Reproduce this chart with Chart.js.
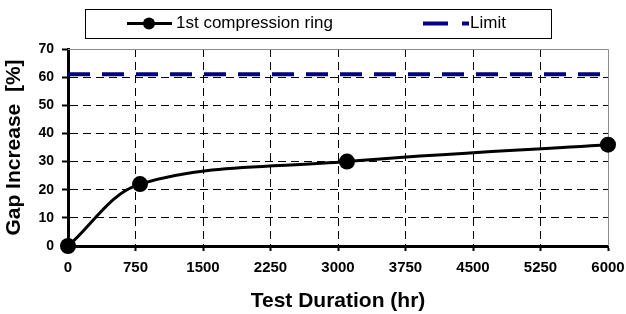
<!DOCTYPE html>
<html>
<head>
<meta charset="utf-8">
<script src="https://cdn.jsdelivr.net/npm/chart.js@4"></script>
<style>
  html, body { margin: 0; padding: 0; background: #fff; }
  #wrap { width: 626px; height: 314px; position: relative; }
</style>
</head>
<body>
<div id="wrap"><canvas id="gapChart" width="626" height="314"></canvas></div>
<script>
// values
const durations = [0, 800, 3100, 6000];
const gapIncrease = [0, 22, 30, 36];
const limitDurations = [0, 6000];
const limitValues = [61, 61];
const xTicks = [0, 750, 1500, 2250, 3000, 3750, 4500, 5250, 6000];
const yTicks = [0, 10, 20, 30, 40, 50, 60, 70];

const seriesNames = ['1st compression ring', 'Limit'];

const toPoints = (xs, ys) => xs.map((x, i) => ({ x: x, y: ys[i] }));

// gray frame on top / right of the plot, like the original
const frame = {
    id: 'frame',
    beforeDatasetsDraw(chart) {
        const a = chart.chartArea;
        const c = chart.ctx;
        c.save();
        c.strokeStyle = '#8c8c8c';
        c.lineWidth = 1;
        c.beginPath();
        c.moveTo(a.left, a.top + 0.5);
        c.lineTo(a.right + 0.5, a.top + 0.5);
        c.lineTo(a.right + 0.5, a.bottom);
        c.stroke();
        c.restore();
    }
};

// boxed legend above the plot
const boxLegend = {
    id: 'boxLegend',
    afterDraw(chart) {
        const c = chart.ctx;
        const ds = chart.data.datasets;
        c.save();
        c.strokeStyle = '#000';
        c.lineWidth = 1;
        c.strokeRect(85.5, 9.5, 466, 29);

        const y = 23.5;
        // series 1 sample
        c.strokeStyle = ds[0].borderColor;
        c.lineWidth = 3;
        c.beginPath();
        c.moveTo(127, y);
        c.lineTo(172, y);
        c.stroke();
        c.fillStyle = ds[0].pointBackgroundColor;
        c.beginPath();
        c.arc(149, y, 6, 0, Math.PI * 2);
        c.fill();

        // limit sample
        c.strokeStyle = ds[1].borderColor;
        c.lineWidth = ds[1].borderWidth;
        c.setLineDash([25, 14]);
        c.beginPath();
        c.moveTo(423, y);
        c.lineTo(469, y);
        c.stroke();
        c.setLineDash([]);

        c.fillStyle = '#000';
        c.font = '17px "Liberation Sans", Arial, sans-serif';
        c.textBaseline = 'middle';
        c.textAlign = 'left';
        c.fillText(ds[0].label, 176, y);
        c.fillText(ds[1].label, 470, y);
        c.restore();
    }
};

const ctx = document.getElementById('gapChart');
new Chart(ctx, {
    type: 'line',
    data: {
        datasets: [
            {
                label: seriesNames[0],
                data: toPoints(durations, gapIncrease),
                borderColor: '#000',
                borderWidth: 3,
                tension: 0.35,
                pointRadius: 8,
                pointBackgroundColor: '#000',
                pointBorderColor: '#000',
                pointBorderWidth: 0,
                clip: false
            },
            {
                label: seriesNames[1],
                data: toPoints(limitDurations, limitValues),
                borderColor: '#000080',
                borderWidth: 4,
                borderDash: [22, 12],
                pointRadius: 0,
                tension: 0
            }
        ]
    },
    options: {
        responsive: false,
        animation: false,
        events: [],
        layout: { padding: { top: 49, right: 18, left: 0, bottom: 0 } },
        plugins: {
            legend: { display: false },
            tooltip: { enabled: false }
        },
        scales: {
            x: {
                type: 'linear',
                min: 0,
                max: 6000,
                afterBuildTicks(scale) {
                    scale.ticks = xTicks.map(v => ({ value: v }));
                },
                afterFit(scale) {
                    scale.height = 68;
                    scale.paddingLeft = 0;
                    scale.paddingRight = 0;
                },
                ticks: {
                    autoSkip: false,
                    maxRotation: 0,
                    color: '#000',
                    padding: 8,
                    font: { family: '"Liberation Sans", Arial, sans-serif', size: 15, weight: 'bold' },
                    callback: v => String(v)
                },
                grid: {
                    color: c => (c.tick && (c.tick.value === 0 || c.tick.value === 6000)) ? 'rgba(0,0,0,0)' : '#000',
                    lineWidth: 1,
                    tickLength: 5,
                    tickColor: '#000',
                    tickWidth: 2,
                    tickBorderDash: []
                },
                border: { display: true, color: '#000', width: 3, dash: [8, 5] },
                title: {
                    display: true,
                    text: 'Test Duration (hr)',
                    color: '#000',
                    padding: { top: 0, bottom: 0 },
                    font: { family: '"Liberation Sans", Arial, sans-serif', size: 21, weight: 'bold' }
                }
            },
            y: {
                min: 0,
                max: 70,
                afterBuildTicks(scale) {
                    scale.ticks = yTicks.map(v => ({ value: v }));
                },
                afterFit(scale) { scale.width = 68; },
                ticks: {
                    color: '#000',
                    padding: 8,
                    font: { family: '"Liberation Sans", Arial, sans-serif', size: 14, weight: 'bold' }
                },
                grid: {
                    color: c => (c.tick && (c.tick.value === 0 || c.tick.value === 70)) ? 'rgba(0,0,0,0)' : '#000',
                    lineWidth: 1,
                    tickLength: 6,
                    tickColor: '#000',
                    tickWidth: 2,
                    tickBorderDash: []
                },
                border: { display: true, color: '#000', width: 3, dash: [8, 5] },
                title: {
                    display: true,
                    text: 'Gap Increase  [%]',
                    color: '#000',
                    padding: { top: 2, bottom: 0 },
                    font: { family: '"Liberation Sans", Arial, sans-serif', size: 21, weight: 'bold' }
                }
            }
        }
    },
    plugins: [frame, boxLegend]
});
</script>
</body>
</html>
